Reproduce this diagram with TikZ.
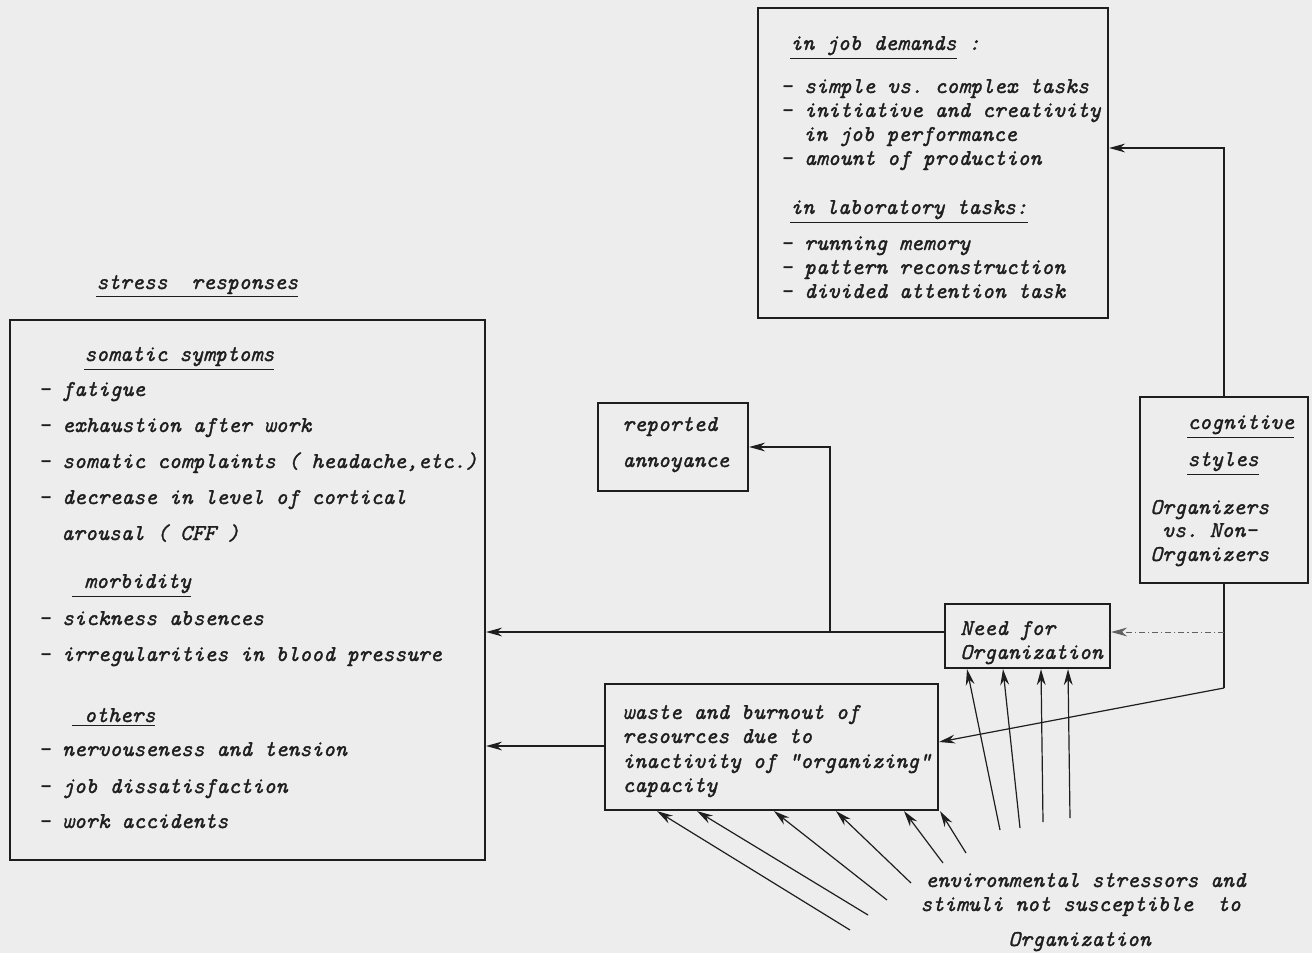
\documentclass[tikz,border=0pt]{standalone}
\usepackage{fontspec}
\setmonofont{lmmono10-regular.otf}[ItalicFont=lmmono10-italic.otf, ItalicFeatures={FakeBold=1.3}]
\usetikzlibrary{arrows.meta,fit}
\definecolor{bgc}{HTML}{EDEDED}
\definecolor{ink}{HTML}{1E1E1E}
\tikzset{
  box/.style={draw=ink, line width=1.1pt, inner sep=0pt},
  txt/.style={anchor=base west, inner sep=0pt, text=ink, font=\fontsize{11.3}{12}\selectfont\ttfamily\itshape},
  arr/.style={draw=ink, line width=0.6pt, -{Stealth[length=8pt,width=4.4pt]}},
  ln/.style={draw=ink, line width=0.6pt},
  dotarr/.style={draw=ink!70, line width=0.5pt, dash pattern=on 3pt off 1.5pt on 0.6pt off 1.5pt, -{Stealth[length=8pt,width=4.4pt]}}
}
\begin{document}
\begin{tikzpicture}[x=0.5pt,y=-0.5pt]
\fill[bgc] (0,0) rectangle (1312,953);
\useasboundingbox (0,0) rectangle (1312,953);

% boxes
\node[box, fit={(758,8) (1108,318)}] (jobs) {};
\node[box, fit={(10,320) (485,860)}] (stress) {};
\node[box, fit={(598,403) (748,491)}] (annoy) {};
\node[box, fit={(1140,397) (1308,583)}] (cog) {};
\node[box, fit={(945,604) (1110,668)}] (need) {};
\node[box, fit={(605,684) (938,810)}] (waste) {};

% top box text
\node[txt] (j1) at (790,50) {\underline{in job demands} :};
\node[txt] (j2) at (780,93) {- simple vs. complex tasks};
\node[txt] (j3) at (780,117) {- initiative and creativity};
\node[txt] (j4) at (803,141) {in job performance};
\node[txt] (j5) at (780,165) {- amount of production};
\node[txt] (j6) at (790,214) {\underline{in laboratory tasks:}};
\node[txt] (j7) at (780,250) {- running memory};
\node[txt] (j8) at (780,274) {- pattern reconstruction};
\node[txt] (j9) at (780,298) {- divided attention task};

% stress responses
\node[txt] (sr) at (96,289) {\underline{stress\ \ responses}};
\node[txt] (s1) at (84,361) {\underline{somatic symptoms}};
\node[txt] (s2) at (38,396) {- fatigue};
\node[txt] (s3) at (38,432) {- exhaustion after work};
\node[txt] (s4) at (38,468) {- somatic complaints ( headache,etc.)};
\node[txt] (s5) at (38,504) {- decrease in level of cortical};
\node[txt] (s6) at (61,540) {arousal ( CFF )};
\node[txt] (s7) at (72,588) {\underline{\ morbidity}};
\node[txt] (s8) at (38,625) {- sickness absences};
\node[txt] (s9) at (38,661) {- irregularities in blood pressure};
\node[txt] (s10) at (72,722) {\underline{\ others}};
\node[txt] (s11) at (38,756) {- nervouseness and tension};
\node[txt] (s12) at (38,793) {- job dissatisfaction};
\node[txt] (s13) at (38,828) {- work accidents};

% reported annoyance
\node[txt] (a1) at (622,431) {reported};
\node[txt] (a2) at (622,467) {annoyance};

% cognitive styles
\node[txt] (c1) at (1187,429) {\underline{cognitive}};
\node[txt] (c2) at (1187,466) {\underline{styles}};
\node[txt] (c3) at (1150,514) {Organizers};
\node[txt] (c4) at (1150,537) {\ vs. Non-};
\node[txt] (c5) at (1150,561) {Organizers};

% need
\node[txt] (n1) at (960,635) {Need for};
\node[txt] (n2) at (960,659) {Organization};

% waste
\node[txt] (w1) at (622,719) {waste and burnout of};
\node[txt] (w2) at (622,743) {resources due to};
\node[txt] (w3) at (622,768) {inactivity of "organizing"};
\node[txt] (w4) at (622,792) {capacity};

% environmental text
\node[txt] (e1) at (925,887) {environmental stressors and};
\node[txt] (e2) at (920,911) {stimuli not susceptible\ \ to};
\node[txt] (e3) at (1008,946) {Organization};

% connectors
\draw[arr] (cog.north) |- (jobs.east |- 0,148);
\coordinate (cd) at (1224,632);
\coordinate (ce) at (1224,688);
\draw[ln] (cog.south) -- (ce);
\draw[arr] (ce) -- (waste.east |- 0,742);
\draw[dotarr] (cd) -- (need.east |- cd);
\coordinate (br) at (830,632);
\draw[arr] (need.west |- br) -- (stress.east |- br);
\draw[arr] (br) |- (annoy.east);
\draw[arr] (waste.west |- 0,746) -- (stress.east |- 0,746);

% arrows into need box
\coordinate (p1) at (1000,830);
\coordinate (p2) at (1020,828);
\coordinate (p3) at (1043,822);
\coordinate (p4) at (1070,818);
\draw[arr] (p1) -- (need.south -| 967,0);
\draw[arr] (p2) -- (need.south -| 1003,0);
\draw[arr] (p3) -- (need.south -| 1041,0);
\draw[arr] (p4) -- (need.south -| 1068,0);

% arrows into waste box
\coordinate (q1) at (850,930);
\coordinate (q2) at (868,915);
\coordinate (q3) at (887,900);
\coordinate (q4) at (911,883);
\coordinate (q5) at (943,863);
\coordinate (q6) at (966,853);
\draw[arr] (q1) -- (waste.south -| 657,0);
\draw[arr] (q2) -- (waste.south -| 697,0);
\draw[arr] (q3) -- (waste.south -| 774,0);
\draw[arr] (q4) -- (waste.south -| 836,0);
\draw[arr] (q5) -- (waste.south -| 904,0);
\draw[arr] (q6) -- (waste.south -| 940,0);
\end{tikzpicture}
\end{document}
